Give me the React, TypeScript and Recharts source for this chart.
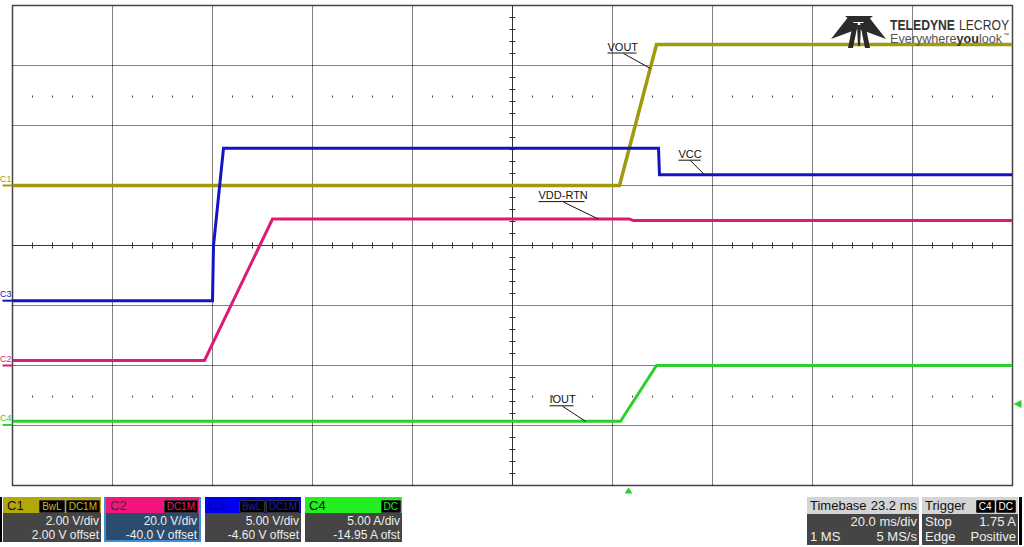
import React from 'react'
import { LineChart, Line, XAxis, YAxis, ReferenceLine, ReferenceDot, ReferenceArea } from 'recharts'

// time in ms relative to trigger; 10 div x 20 ms, trigger 23.2 ms right of centre
const T_MIN = -123.2
const T_MAX = 76.8
const MS_PER_DIV = 20
const PX_T = 0.2 // ms per pixel
const PX_Y = 1 / 60 // div per pixel

// channel vertical settings (from the readout)
const ch1 = { vdiv: 2.0, offset: 2.0 }
const ch2 = { vdiv: 20.0, offset: -40.0 }
const ch3 = { vdiv: 5.0, offset: -4.6 }
const ch4 = { vdiv: 5.0, offset: -14.95 }
const triggerLevel = 1.75

// C1 VOUT (V)
const voutT = [-123.2, -1.8, 5.6, 76.8]
const voutV = [0, 0, 4.7, 4.7]
// C3 VCC (V)
const vccT = [-123.2, -83.2, -83.0, -81.0, 6.0, 6.2, 76.8]
const vccV = [0, 0, 4.6, 12.7, 12.7, 10.5, 10.5]
// C2 VDD-RTN (V)
const vddT = [-123.2, -84.8, -71.2, 0.2, 1.0, 76.8]
const vddV = [1.7, 1.7, 48.8, 48.8, 48.3, 48.3]
// C4 IOUT (A)
const ioutT = [-123.2, -1.6, 5.6, 76.8]
const ioutV = [0.3, 0.3, 4.95, 4.95]

const toDiv = (v: number, ch: { vdiv: number; offset: number }) => (v + ch.offset) / ch.vdiv
const series = (ts: number[], vs: number[], ch: { vdiv: number; offset: number }) =>
  ts.map((t, i) => ({ t, y: toDiv(vs[i], ch) }))

const C1 = '#a09a0c'
const C2 = '#dc1a78'
const C3 = '#1414c4'
const C4 = '#2ccf2c'

// annotation anchors (on trace) and their text offsets
const notes = [
  { text: 'VOUT', t: 4.4, y: toDiv(3.9, ch1), dx: -43, dy: -18, w: 29, lx: -27, ly: -15 },
  { text: 'VCC', t: 15.2, y: toDiv(10.5, ch3), dx: -26, dy: -17, w: 22, lx: -14, ly: -14 },
  { text: 'VDD-RTN', t: -6, y: toDiv(48.8, ch2), dx: -60, dy: -20, w: 46, lx: -35, ly: -17 },
  { text: 'IOUT', t: -8.6, y: toDiv(0.3, ch4), dx: -36, dy: -18, w: 24, lx: -23, ly: -15 },
]

const markers = [
  { name: 'C1', y: toDiv(0, ch1), color: C1 },
  { name: 'C3', y: toDiv(0, ch3), color: C3 },
  { name: 'C2', y: toDiv(0, ch2), color: C2 },
  { name: 'C4', y: toDiv(0, ch4), color: C4 },
]

const FONT = '"Liberation Sans", Arial, sans-serif'

const majorX = Array.from({ length: 9 }, (_, k) => T_MIN + (k + 1) * MS_PER_DIV)
const majorY = [-3, -2, -1, 0, 1, 2, 3]
const minorX = Array.from({ length: 49 }, (_, k) => T_MIN + (k + 1) * MS_PER_DIV / 5).filter(
  (_, k) => (k + 1) % 5 !== 0
)
const minorY = Array.from({ length: 39 }, (_, k) => -4 + (k + 1) * 0.2).filter((_, k) => (k + 1) % 5 !== 0)
const T_CENTER = T_MIN + 5 * MS_PER_DIV

function Badge({ text, color }: { text: string; color: string }) {
  return (
    <span
      style={{
        background: '#000',
        color,
        fontSize: 10,
        padding: '0 2px',
        borderRadius: 2,
        border: '1px solid #333',
        lineHeight: '12px',
        marginLeft: 1,
      }}
    >
      {text}
    </span>
  )
}

function ChannelBox(props: {
  left: number
  width: number
  name: string
  color: string
  nameColor: string
  badges: string[]
  badgeColor: string
  line1: string
  line2: string
  selected?: boolean
}) {
  const { left, width, name, color, nameColor, badges, badgeColor, line1, line2, selected } = props
  return (
    <div
      style={{
        position: 'absolute',
        left,
        top: 497,
        width,
        height: 45,
        fontFamily: FONT,
        boxSizing: 'border-box',
        background: selected ? '#2b4c6d' : '#454545',
        border: selected ? '2px solid #3d8fd6' : 'none',
        borderTop: 'none',
      }}
    >
      <div
        style={{
          height: 16,
          background: color,
          display: 'flex',
          alignItems: 'center',
          justifyContent: 'space-between',
          padding: '0 1px 0 4px',
        }}
      >
        <span style={{ color: nameColor, fontSize: 13 }}>{name}</span>
        <span>
          {badges.map((b) => (
            <Badge key={b} text={b} color={badgeColor} />
          ))}
        </span>
      </div>
      <div style={{ color: '#eee', fontSize: 12, textAlign: 'right', padding: '1px 2px 0 0', lineHeight: '14px' }}>
        <div>{line1}</div>
        <div>{line2}</div>
      </div>
    </div>
  )
}

function InfoBox(props: { left: number; width: number; head: React.ReactNode; rows: [string, string][] }) {
  const { left, width, head, rows } = props
  return (
    <div style={{ position: 'absolute', left, top: 497, width, height: 48, background: '#454545', fontFamily: FONT }}>
      <div
        style={{
          height: 17,
          background: '#d4d4d4',
          display: 'flex',
          alignItems: 'center',
          justifyContent: 'space-between',
          padding: '0 2px 0 3px',
          fontSize: 13,
          color: '#111',
        }}
      >
        {head}
      </div>
      {rows.map(([a, b], i) => (
        <div
          key={i}
          style={{
            display: 'flex',
            justifyContent: 'space-between',
            color: '#eee',
            fontSize: 13,
            lineHeight: '15px',
            padding: '0 2px 0 3px',
          }}
        >
          <span>{a}</span>
          <span>{b}</span>
        </div>
      ))}
    </div>
  )
}

function Logo() {
  return (
    <svg width={200} height={50} style={{ position: 'absolute', left: 820, top: 5 }}>
      <g fill="#2b2b2b">
        <polygon points="11,34 29,11 38,24" />
        <polygon points="66,34 48,11 39,24" />
        <polygon points="25,11 53,11 45,17 33,17" />
        <polygon points="33,18 38,18 33,43 28,43" />
        <polygon points="40,18 45,18 50,43 45,43" />
        <polygon points="37,20 41,20 40,41 38,41" />
      </g>
      <text x={70} y={25} fontFamily={FONT} fontSize={14} fontWeight="bold" fill="#333" textLength={65} lengthAdjust="spacingAndGlyphs">
        TELEDYNE
      </text>
      <text x={139} y={25} fontFamily={FONT} fontSize={14} fill="#333" textLength={50} lengthAdjust="spacingAndGlyphs">
        LECROY
      </text>
      <text x={70} y={38} fontFamily={FONT} fontSize={13} fill="#555" textLength={112} lengthAdjust="spacingAndGlyphs">
        Everywhere<tspan fontWeight="bold" fill="#333">you</tspan>look
      </text>
      <text x={183} y={32} fontFamily={FONT} fontSize={6} fill="#555">
        ™
      </text>
    </svg>
  )
}

export default function App() {
  return (
    <div style={{ position: 'absolute', left: 0, top: 0, width: 1024, height: 547, background: '#fff' }}>
      <LineChart width={1024} height={547} margin={{ top: 5.5, right: 11.5, bottom: 61.5, left: 12.5 }}>
        <XAxis type="number" dataKey="t" domain={[T_MIN, T_MAX]} hide allowDataOverflow />
        <YAxis type="number" domain={[-4, 4]} hide allowDataOverflow />
        {majorX.map((x) => (
          <ReferenceLine
            key={'vx' + x}
            x={x}
            stroke={x === T_CENTER ? '#333' : '#000'}
            strokeDasharray={x === T_CENTER ? undefined : '1 1'}
          />
        ))}
        {majorY.map((y) => (
          <ReferenceLine
            key={'hy' + y}
            y={y}
            stroke={y === 0 ? '#333' : '#000'}
            strokeDasharray={y === 0 ? undefined : '1 1'}
          />
        ))}
        {minorX.map((x) => (
          <ReferenceLine key={'tx' + x} segment={[{ x, y: -3 * PX_Y }, { x, y: 3 * PX_Y }]} stroke="#333" />
        ))}
        {minorY.map((y) => (
          <ReferenceLine
            key={'ty' + y}
            segment={[{ x: T_CENTER - 3 * PX_T, y }, { x: T_CENTER + 3 * PX_T, y }]}
            stroke="#333"
          />
        ))}
        {[2.5, -2.5].flatMap((row) =>
          minorX.map((x) => (
            <ReferenceLine
              key={'d' + row + x}
              segment={[{ x, y: row }, { x, y: row - 2 * PX_Y }]}
              stroke="#444"
            />
          ))
        )}
        <ReferenceArea x1={T_MIN} x2={T_MAX} y1={-4} y2={4} fill="none" stroke="#444" strokeWidth={1.5} />
        <Line data={series(voutT, voutV, ch1)} dataKey="y" stroke={C1} strokeWidth={3.5} dot={false} isAnimationActive={false} />
        <Line data={series(vccT, vccV, ch3)} dataKey="y" stroke={C3} strokeWidth={3} dot={false} isAnimationActive={false} />
        <Line data={series(vddT, vddV, ch2)} dataKey="y" stroke={C2} strokeWidth={3} dot={false} isAnimationActive={false} />
        <Line data={series(ioutT, ioutV, ch4)} dataKey="y" stroke={C4} strokeWidth={3} dot={false} isAnimationActive={false} />
        {notes.map((n) => (
          <ReferenceDot
            key={n.text}
            x={n.t}
            y={n.y}
            r={0}
            ifOverflow="visible"
            shape={(p: any) => (
              <g>
                <text x={p.cx + n.dx} y={p.cy + n.dy} fontFamily={FONT} fontSize={11} fill="#111">
                  {n.text}
                </text>
                <line x1={p.cx + n.dx} x2={p.cx + n.dx + n.w} y1={p.cy + n.dy + 2.5} y2={p.cy + n.dy + 2.5} stroke="#111" />
                <line x1={p.cx + n.lx} y1={p.cy + n.ly} x2={p.cx} y2={p.cy} stroke="#111" />
              </g>
            )}
          />
        ))}
        {markers.map((m) => (
          <ReferenceDot
            key={m.name}
            x={T_MIN}
            y={m.y}
            r={0}
            ifOverflow="visible"
            shape={(p: any) => (
              <g>
                <line x1={p.cx - 10} x2={p.cx} y1={p.cy} y2={p.cy} stroke={m.color} strokeWidth={2} />
                <text x={p.cx - 12.5} y={p.cy - 4} fontFamily={FONT} fontSize={9} fill={m.color}>
                  {m.name}
                </text>
              </g>
            )}
          />
        ))}
        <ReferenceDot
          x={T_MAX}
          y={toDiv(triggerLevel, ch4)}
          r={0}
          ifOverflow="visible"
          shape={(p: any) => (
            <polygon points={`${p.cx + 1},${p.cy} ${p.cx + 9},${p.cy - 4} ${p.cx + 9},${p.cy + 4}`} fill={C4} />
          )}
        />
        <ReferenceDot
          x={0}
          y={-4}
          r={0}
          ifOverflow="visible"
          shape={(p: any) => (
            <polygon points={`${p.cx},${p.cy + 2} ${p.cx - 4},${p.cy + 8} ${p.cx + 4},${p.cy + 8}`} fill={C4} />
          )}
        />
      </LineChart>
      <Logo />
      <div style={{ position: 'absolute', left: 0, top: 497, width: 2, height: 45, background: '#000' }} />
      <ChannelBox left={3} width={98} name="C1" color="#b3a70c" nameColor="#111" badges={['BwL', 'DC1M']} badgeColor="#c8bb20"
        line1="2.00 V/div" line2="2.00 V offset" />
      <ChannelBox left={104} width={97} name="C2" color="#f0167c" nameColor="#333" badges={['DC1M']} badgeColor="#f0167c"
        line1="20.0 V/div" line2="-40.0 V offset" selected />
      <ChannelBox left={205} width={96} name="C3" color="#0000f0" nameColor="#00008a" badges={['BwL', 'DC1M']} badgeColor="#1a1ad0"
        line1="5.00 V/div" line2="-4.60 V offset" />
      <ChannelBox left={305} width={97} name="C4" color="#22ee22" nameColor="#111" badges={['DC']} badgeColor="#22ee22"
        line1="5.00 A/div" line2="-14.95 A ofst" />
      <InfoBox
        left={807}
        width={112}
        head={
          <>
            <span>Timebase</span>
            <span>23.2 ms</span>
          </>
        }
        rows={[
          ['', '20.0 ms/div'],
          ['1 MS', '5 MS/s'],
        ]}
      />
      <InfoBox
        left={922}
        width={96}
        head={
          <>
            <span>Trigger</span>
            <span>
              <Badge text="C4" color="#fff" />
              <Badge text="DC" color="#fff" />
            </span>
          </>
        }
        rows={[
          ['Stop', '1.75 A'],
          ['Edge', 'Positive'],
        ]}
      />
      <div style={{ position: 'absolute', left: 1019, top: 497, width: 3, height: 48, background: '#000' }} />
    </div>
  )
}
